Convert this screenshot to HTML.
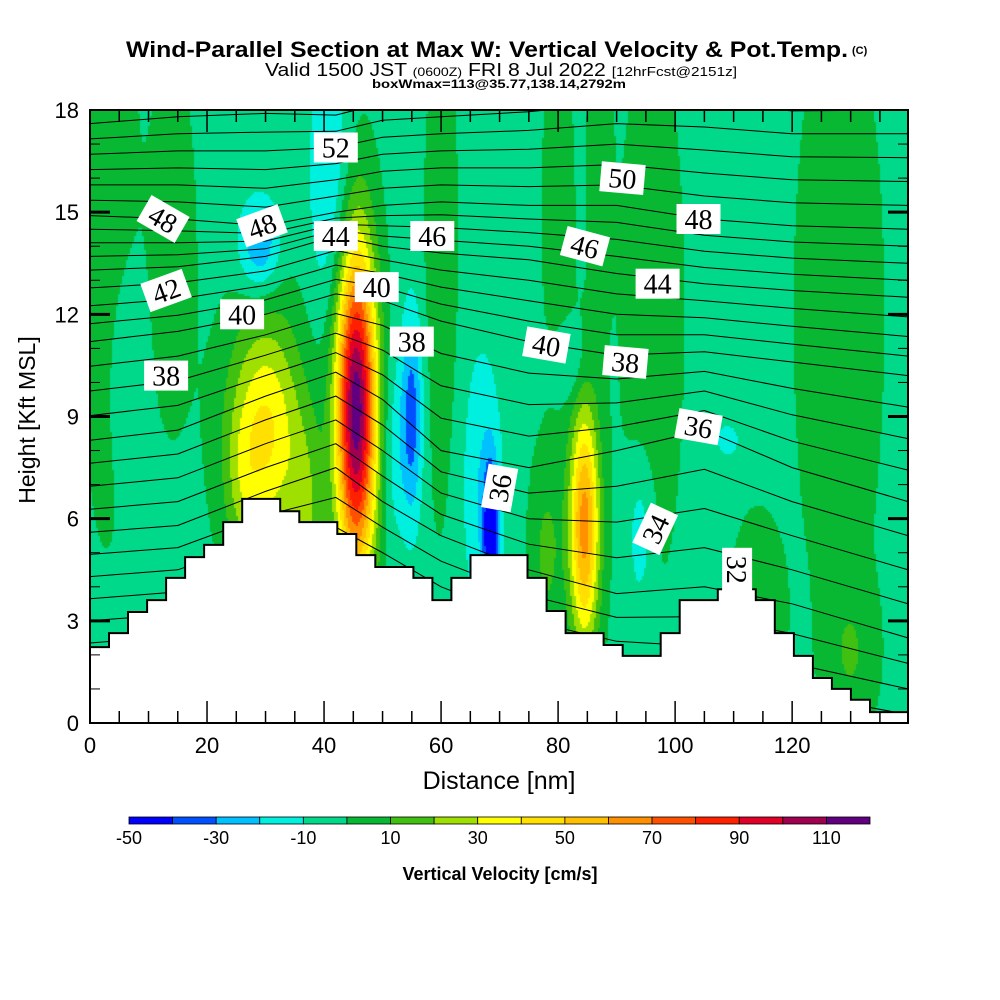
<!DOCTYPE html>
<html><head><meta charset="utf-8"><style>
html,body{margin:0;padding:0;background:#fff;}
#wrap{position:relative;width:1000px;height:1000px;overflow:hidden;font-family:"Liberation Sans",sans-serif;}
canvas{position:absolute;left:90px;top:110px;}
svg{position:absolute;left:0;top:0;}
</style></head><body>
<div id="wrap">
<canvas id="cv" width="818" height="613"></canvas>
<svg id="sv" width="1000" height="1000">
<text x="126" y="57" font-size="22" font-weight="bold" textLength="722" lengthAdjust="spacingAndGlyphs">Wind-Parallel Section at Max W: Vertical Velocity &amp; Pot.Temp.</text>
<text x="852" y="54" font-size="11" font-weight="bold">(C)</text>
<text x="265" y="76" font-size="18" textLength="472" lengthAdjust="spacingAndGlyphs">Valid 1500 JST <tspan font-size="12">(0600Z)</tspan> FRI 8 Jul 2022 <tspan font-size="13">[12hrFcst@2151z]</tspan></text>
<text x="372" y="88" font-size="12" font-weight="bold" textLength="254" lengthAdjust="spacingAndGlyphs">boxWmax=113@35.77,138.14,2792m</text>
<g id="isen"></g>
<g id="terr"></g>
<g id="labs"></g>
<g id="axes"></g>
<text x="499" y="789" font-size="25" text-anchor="middle">Distance [nm]</text>
<text transform="translate(35,420) rotate(-90)" font-size="23" text-anchor="middle">Height [Kft MSL]</text>
<g id="cbar"></g>
<text x="500" y="880" font-size="18" font-weight="bold" text-anchor="middle">Vertical Velocity [cm/s]</text>
</svg>
</div>
<script>
// ---- data ----
const colorBins = ["#0000ff","#0050ff","#00c0ff","#00f0e0","#00d88a","#08b832","#40c010","#a0e000","#ffff00","#ffe000","#ffc000","#ff9000","#ff5000","#ff2000","#e00028","#a00050","#600080"];
const binMin = -50, binStep = 10;
const cbarLabels = [-50,-30,-10,10,30,50,70,90,110];
const baseW = -3;
// blobs: x(nm), z(kft), sx, sz, amplitude(cm/s)
const blobX   = [45.5, 30, 84.5, 55, 68.5, 67, 41, 29, 6, 94, 82, 109, 60, 3, 14, 80, 96, 128, 114, 37, 78, 130, 87, 52, 26];
const blobZ   = [9.2, 8.5, 5.8, 9.0, 5.5, 7, 16, 14, 10.5, 5.5, 10.5, 8.3, 13, 15, 14, 15, 12, 12, 3, 6, 5, 2, 16, 8, 7];
const blobSX  = [2.4, 4.5, 1.8, 1.3, 0.9, 2.5, 2.5, 2.5, 2, 1.5, 2, 2, 2, 3, 3, 2, 4, 5, 3, 2, 2, 3, 1.5, 1.5, 2];
const blobSZ  = [3.4, 2.5, 2.5, 2.2, 1.5, 3, 3, 1.0, 2, 1.5, 0.8, 0.5, 5, 6, 4, 4, 6, 6, 2, 2, 2, 1.5, 3, 2, 1.5];
const blobAmp = [120, 45, 68, -32, -45, -16, -18, -28, -12, -15, -12, -10, 10, 12, 8, 8, 8, 10, 12, 18, 15, 12, 8, -12, 10];
// terrain heights (kft) per 3.252 nm column
const terrain = [2.23,2.64,3.26,3.61,4.26,4.87,5.23,5.90,6.58,6.58,6.22,5.90,5.90,5.55,4.93,4.58,4.58,4.26,3.61,4.26,4.93,4.93,4.93,4.26,3.29,2.64,2.64,2.29,1.97,1.97,2.64,3.61,3.61,3.93,3.93,3.61,2.64,1.97,1.32,1.0,0.68,0.32,0.32];
// isentrope anchor heights (kft) at stations
const thetaAnchors = [28,32,36,40,44,48,52];
const stationX = [0,15,30,42,50,60,75,90,105,120,139.8];
const anchorZ = [
 [3.0,5.6,8.3,11.2,13.3,14.9,16.7],
 [3.2,5.8,8.6,11.5,13.4,14.8,16.8],
 [4.0,6.8,9.6,12.0,13.7,14.6,16.8],
 [4.0,7.5,10.3,12.6,14.3,15.0,16.9],
 [3.5,6.5,9.5,12.4,14.0,15.2,17.2],
 [2.5,5.5,8.0,11.8,13.8,15.3,17.3],
 [1.5,4.5,7.5,11.2,13.6,15.2,17.4],
 [1.0,3.8,8.0,10.8,13.2,15.2,17.6],
 [0.5,4.0,8.6,10.9,12.9,14.8,17.5],
 [0.0,3.5,7.5,10.6,12.7,14.6,17.3],
 [-0.5,2.5,6.5,10.2,12.5,14.5,17.3]];
const labelTheta = [52,50,48,48,44,46,46,48,44,42,40,40,38,40,38,38,36,36,34,32];
const labelX = [42,91,12.5,29.4,42,58.5,84.6,104,97,13,26,49,55,78,91.5,13,104,70,96.6,110.6];
const labelZ = [16.9,16.0,14.8,14.6,14.3,14.3,14.0,14.8,12.9,12.7,12.0,12.8,11.2,11.1,10.6,10.2,8.7,6.9,5.7,4.5];
const labelRot = [0,5,30,-20,0,0,15,0,0,-20,0,0,0,10,5,0,10,-80,-65,90];
const xTicks = [0,20,40,60,80,100,120];
const yTicks = [0,3,6,9,12,15,18];

// ---- axes functions ----
const PL=90, PT=110, PW=818, PH=613, XMAX=139.8, ZMAX=18;
const sx = x => PL + x/XMAX*PW;
const sy = z => PT + PH - z/ZMAX*PH;
const NS="http://www.w3.org/2000/svg";
function mk(tag, attrs, parent){const e=document.createElementNS(NS,tag);for(const k in attrs)e.setAttribute(k,attrs[k]);parent.appendChild(e);return e;}

// ---- field ----
function wAt(x,z){let v=baseW;for(let i=0;i<blobX.length;i++){const dx=(x-blobX[i])/blobSX[i],dz=(z-blobZ[i])/blobSZ[i];v+=blobAmp[i]*Math.exp(-0.5*(dx*dx+dz*dz));}return v;}
const ctx=document.getElementById('cv').getContext('2d');
for(let py=0;py<PH;py+=2){for(let px=0;px<PW;px+=2){
 const x=(px+1)/PW*XMAX, z=ZMAX-(py+1)/PH*ZMAX;
 let b=Math.floor((wAt(x,z)-binMin)/binStep);b=Math.max(0,Math.min(colorBins.length-1,b));
 ctx.fillStyle=colorBins[b];ctx.fillRect(px,py,2,2);}}

// ---- isentropes ----
const isen=document.getElementById('isen');
function zTheta(th,si){const a=anchorZ[si];
 if(th<=thetaAnchors[0])return a[0]+(th-thetaAnchors[0])*(a[1]-a[0])/4;
 for(let k=0;k<thetaAnchors.length-1;k++){if(th<=thetaAnchors[k+1]){const t=(th-thetaAnchors[k])/(thetaAnchors[k+1]-thetaAnchors[k]);return a[k]+t*(a[k+1]-a[k]);}}
 const n=a.length;return a[n-1]+(th-thetaAnchors[n-1])*(a[n-1]-a[n-2])/4;}
for(let th=24;th<=55;th++){
 const pts=stationX.map((x,i)=>sx(x).toFixed(1)+","+sy(zTheta(th,i)).toFixed(1));
 const p=mk('polyline',{points:pts.join(" "),fill:"none",stroke:"#000","stroke-width":1,"clip-path":"url(#pc)"},isen);
 
 
}
const defs=mk('defs',{},document.getElementById('sv'));
const cp=mk('clipPath',{id:'pc'},defs);mk('rect',{x:PL,y:PT,width:PW,height:PH},cp);

// ---- terrain ----
const terr=document.getElementById('terr');
const colW=XMAX/terrain.length;
let tp=[sx(0)+","+sy(0)];
terrain.forEach((h,i)=>{tp.push(sx(i*colW).toFixed(1)+","+sy(h).toFixed(1));tp.push(sx((i+1)*colW).toFixed(1)+","+sy(h).toFixed(1));});
tp.push(sx(XMAX)+","+sy(0));
const tpoly=mk('polygon',{points:tp.join(" "),fill:"#fff",stroke:"#000","stroke-width":2},terr);



// ---- labels ----
const labs=document.getElementById('labs');
labelTheta.forEach((t,i)=>{
 const g=mk('g',{transform:`translate(${sx(labelX[i]).toFixed(1)},${sy(labelZ[i]).toFixed(1)}) rotate(${labelRot[i]})`},labs);
 
 
 mk('rect',{x:-22,y:-15,width:44,height:30,fill:"#fff"},g);
 const tx=mk('text',{x:0,y:10,"font-size":28,"font-family":"Liberation Serif, serif","text-anchor":"middle"},g);
 tx.textContent=t;
});

// ---- axes ----
const ax=document.getElementById('axes');
mk('rect',{x:PL,y:PT,width:PW,height:PH,fill:"none",stroke:"#000","stroke-width":2},ax);
for(let x=5;x<XMAX;x+=5){const L=(x%20===0)?22:12;
 mk('line',{x1:sx(x),y1:PT+PH,x2:sx(x),y2:PT+PH-L,stroke:"#000","stroke-width":1.5},ax);
 mk('line',{x1:sx(x),y1:PT,x2:sx(x),y2:PT+L,stroke:"#000","stroke-width":1.5},ax);}
for(let z=1;z<ZMAX;z++){const L=(z%3===0)?20:10,w=(z%3===0)?3:1;
 mk('line',{x1:PL,y1:sy(z),x2:PL+L,y2:sy(z),stroke:"#000","stroke-width":w},ax);
 mk('line',{x1:PL+PW,y1:sy(z),x2:PL+PW-L,y2:sy(z),stroke:"#000","stroke-width":w},ax);}
xTicks.forEach(v=>{const t=mk('text',{x:sx(v),y:753,"font-size":22,"text-anchor":"middle"},ax);t.textContent=v;
 });
yTicks.forEach(v=>{const t=mk('text',{x:79,y:sy(v)+8,"font-size":22,"text-anchor":"end"},ax);t.textContent=v;
 });

// ---- colorbar ----
const cb=document.getElementById('cbar');
const CB0=129,CBW=741/colorBins.length;
colorBins.forEach((c,i)=>{const r=mk('rect',{x:CB0+i*CBW,y:817,width:CBW,height:7,fill:c,stroke:"#000","stroke-width":0.8},cb);
 });
cbarLabels.forEach(v=>{const t=mk('text',{x:CB0+(v-binMin)/binStep*CBW,y:844,"font-size":18,"text-anchor":"middle"},cb);t.textContent=v;
 });
</script>
</body></html>
